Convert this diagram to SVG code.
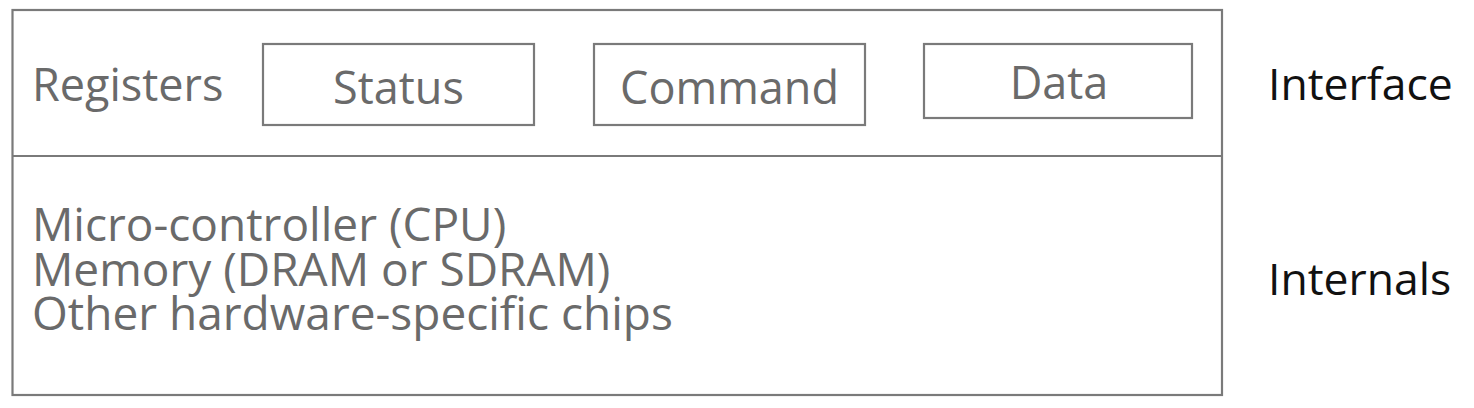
<svg xmlns="http://www.w3.org/2000/svg" width="1474" height="408" viewBox="0 0 1474 408">
<style>
.box{fill:none;stroke:#7a7a7a;stroke-width:2.2}
.t{font-family:"Open Sans","Noto Sans",sans-serif;font-size:45px;fill:#6a6a6a}
.b{font-size:46px}
.lbl{font-family:"Open Sans","Noto Sans",sans-serif;font-size:44.5px;fill:#111}
.c{text-anchor:middle}
</style>
<rect width="1474" height="408" fill="#fff"/>
<g id="device">
<rect class="box" x="12.5" y="10" width="1209.5" height="385"/>
<line class="box" x1="12.5" y1="156" x2="1222" y2="156"/>
</g>
<g id="interface">
<text class="t" x="32" y="101">Registers</text>
</g>
<g id="status">
<rect class="box" x="263" y="44" width="271" height="81"/>
<text class="t c" x="398.5" y="104">Status</text>
</g>
<g id="command">
<rect class="box" x="594" y="44" width="271" height="81"/>
<text class="t c" x="729.5" y="104">Command</text>
</g>
<g id="data">
<rect class="box" x="924" y="44" width="268" height="74"/>
<text class="t c" x="1059" y="99">Data</text>
</g>
<g id="internals">
<text class="t b"><tspan x="32" y="241">Micro-controller (CPU)</tspan><tspan x="32" y="286">Memory (DRAM or SDRAM)</tspan><tspan x="32" y="330">Other hardware-specific chips</tspan></text>
</g>
<g id="labels">
<text class="lbl" x="1268" y="100">Interface</text>
<text class="lbl" x="1268" y="295">Internals</text>
</g>
<g id="connectors"></g>
</svg>
